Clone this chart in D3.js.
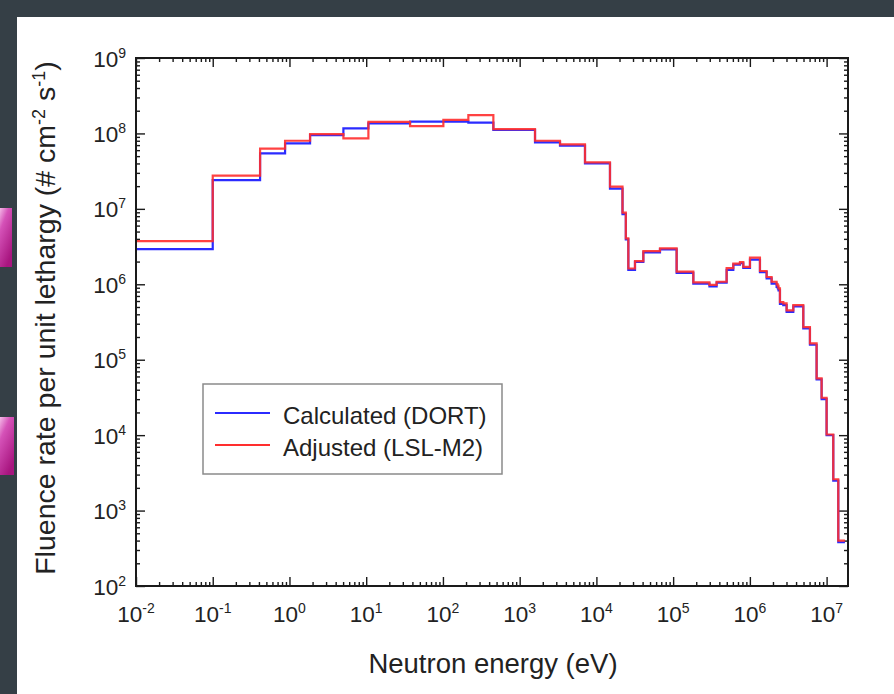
<!DOCTYPE html>
<html>
<head>
<meta charset="utf-8">
<script src="https://cdn.jsdelivr.net/npm/d3@7"></script>
<style>
  body { margin: 0; background: #353f46; }
  svg { display: block; }
  text { font-family: "Liberation Sans", Arial, Helvetica, sans-serif; fill: #222; }
</style>
</head>
<body>
<svg id="chart" width="894" height="694"></svg>
<script>
// Group boundaries (eV), ascending; the lowest bin is shown from the axis start.
const energyEdges = [
  1e-2, 0.1, 0.414, 0.8764, 1.855, 5.044, 10.68, 37.27, 101.3, 214.4,
  454.0, 1585, 3355, 7102, 15030, 21880, 24180, 26060, 31830, 40870,
  67380, 111100, 183200, 297200, 368800, 497900, 608100, 742700, 820800, 1003000,
  1353000, 1653000, 1920000, 2231000, 2307000, 2346000, 2365000, 2466000, 2725000, 3012000,
  3679000, 4966000, 6065000, 7408000, 8607000, 1.0e7, 1.221e7, 1.419e7, 1.733e7
];

// Fluence rate per unit lethargy for each group, ascending energy
const calculated = [
  2.93e6, 2.41e7, 5.45e7, 7.4e7, 9.5e7, 1.17e8, 1.36e8, 1.43e8, 1.43e8, 1.39e8,
  1.11e8, 7.6e7, 6.9e7, 4.0e7, 1.86e7, 8.5e6, 3.95e6, 1.55e6, 1.98e6, 2.65e6,
  2.9e6, 1.42e6, 1.02e6, 9.4e5, 1.05e6, 1.55e6, 1.82e6, 1.9e6, 1.65e6, 2.12e6,
  1.45e6, 1.2e6, 1.02e6, 9.2e5, 8.9e5, 8.6e5, 8.3e5, 5.5e5, 5.3e5, 4.3e5,
  5.1e5, 2.6e5, 1.58e5, 5.5e4, 3.0e4, 1.0e4, 2.5e3, 380
];
const adjusted = [
  3.74e6, 2.75e7, 6.27e7, 8.0e7, 9.8e7, 8.6e7, 1.42e8, 1.25e8, 1.51e8, 1.75e8,
  1.14e8, 8.0e7, 7.17e7, 4.13e7, 1.97e7, 8.9e6, 4.06e6, 1.62e6, 2.03e6, 2.75e6,
  2.99e6, 1.47e6, 1.06e6, 9.8e5, 1.08e6, 1.64e6, 1.88e6, 1.97e6, 1.7e6, 2.25e6,
  1.5e6, 1.25e6, 1.08e6, 1.0e6, 9.6e5, 9.3e5, 8.8e5, 5.8e5, 5.6e5, 4.5e5,
  5.3e5, 2.7e5, 1.65e5, 5.65e4, 3.13e4, 1.02e4, 2.6e3, 400
];

const seriesNames = ["Calculated (DORT)", "Adjusted (LSL-M2)"];
const seriesColors = ["#2b2bff", "#ff2e2e"];
const xTickExponents = [-2, -1, 0, 1, 2, 3, 4, 5, 6, 7];
const yTickExponents = [2, 3, 4, 5, 6, 7, 8, 9];
const xDomain = [1e-2, 1.9e7];
const yDomain = [1e2, 1e9];

const svg = d3.select("#chart");

// page frame: white sheet on dark backdrop, with two bullet tabs at the left edge
const defs = svg.append("defs");
const grad = defs.append("linearGradient").attr("id", "tab")
  .attr("x1", "0").attr("y1", "0").attr("x2", "0.6").attr("y2", "1");
grad.append("stop").attr("offset", "0").attr("stop-color", "#fbd0f2");
grad.append("stop").attr("offset", "0.35").attr("stop-color", "#d552b8");
grad.append("stop").attr("offset", "1").attr("stop-color", "#a8157f");

svg.append("rect").attr("x", 17).attr("y", 17).attr("width", 877).attr("height", 677).attr("fill", "#fff");
svg.append("rect").attr("x", -2).attr("y", 208).attr("width", 14).attr("height", 59).attr("fill", "url(#tab)");
svg.append("rect").attr("x", -2).attr("y", 417).attr("width", 16).attr("height", 58).attr("fill", "url(#tab)");

const plot = { left: 136, right: 848, top: 58, bottom: 586 };

const x = d3.scaleLog().domain(xDomain).range([plot.left, plot.right]);
const y = d3.scaleLog().domain(yDomain).range([plot.bottom, plot.top]);

// tick values
const xMajor = xTickExponents.map(e => Math.pow(10, e));
const xMinor = [];
xTickExponents.forEach(e => {
  for (let m = 2; m <= 9; m++) {
    const v = m * Math.pow(10, e);
    if (v < xDomain[1]) xMinor.push(v);
  }
});
const yMajor = yTickExponents.map(e => Math.pow(10, e));
const yMinor = [];
yTickExponents.slice(0, -1).forEach(e => {
  for (let m = 2; m <= 9; m++) yMinor.push(m * Math.pow(10, e));
});

const MAJ = 9, MIN = 4;
function styleAxis(g) {
  g.select(".domain").remove();
  g.selectAll(".tick line").attr("stroke", "#1a1a1a").attr("stroke-width", 1.4);
  g.selectAll(".tick text").remove();
}
function addAxis(gen, tx, ty) {
  svg.append("g").attr("transform", `translate(${tx},${ty})`).call(gen).call(styleAxis);
}
addAxis(d3.axisBottom(x).tickValues(xMajor).tickSize(-MAJ).tickFormat(""), 0, plot.bottom);
addAxis(d3.axisBottom(x).tickValues(xMinor).tickSize(-MIN).tickFormat(""), 0, plot.bottom);
addAxis(d3.axisTop(x).tickValues(xMajor).tickSize(-MAJ).tickFormat(""), 0, plot.top);
addAxis(d3.axisTop(x).tickValues(xMinor).tickSize(-MIN).tickFormat(""), 0, plot.top);
addAxis(d3.axisLeft(y).tickValues(yMajor).tickSize(-MAJ).tickFormat(""), plot.left, 0);
addAxis(d3.axisLeft(y).tickValues(yMinor).tickSize(-MIN).tickFormat(""), plot.left, 0);
addAxis(d3.axisRight(y).tickValues(yMajor).tickSize(-MAJ).tickFormat(""), plot.right, 0);
addAxis(d3.axisRight(y).tickValues(yMinor).tickSize(-MIN).tickFormat(""), plot.right, 0);

// step histograms
svg.append("clipPath").attr("id", "plotClip").append("rect")
  .attr("x", plot.left).attr("y", plot.top)
  .attr("width", plot.right - plot.left).attr("height", plot.bottom - plot.top);

const stepLine = d3.line()
  .x(d => x(d[0])).y(d => y(d[1]))
  .curve(d3.curveStepAfter);

function stepPoints(values) {
  const pts = values.map((v, i) => [energyEdges[i], v]);
  pts.push([energyEdges[energyEdges.length - 1], values[values.length - 1]]);
  return pts;
}

const lines = svg.append("g").attr("clip-path", "url(#plotClip)");
[calculated, adjusted].forEach((vals, i) => {
  lines.append("path")
    .attr("d", stepLine(stepPoints(vals)))
    .attr("fill", "none")
    .attr("stroke", seriesColors[i])
    .attr("stroke-width", 2.2)
    .attr("stroke-linejoin", "miter")
    .attr("opacity", i === 1 ? 0.9 : 1);
});

// frame
svg.append("rect")
  .attr("x", plot.left).attr("y", plot.top)
  .attr("width", plot.right - plot.left).attr("height", plot.bottom - plot.top)
  .attr("fill", "none").attr("stroke", "#1a1a1a").attr("stroke-width", 2);

// power-of-ten tick labels
function powerLabel(g, exp) {
  g.append("tspan").text("10");
  g.append("tspan").attr("dy", -9).attr("font-size", 14).text(String(exp));
}
xTickExponents.forEach(e => {
  const t = svg.append("text")
    .attr("x", x(Math.pow(10, e)))
    .attr("y", 622)
    .attr("text-anchor", "middle")
    .attr("font-size", 22.5)
    .attr("fill", "#333");
  powerLabel(t, e);
});
yTickExponents.forEach(e => {
  const t = svg.append("text")
    .attr("x", 126)
    .attr("y", y(Math.pow(10, e)) + 8.5)
    .attr("text-anchor", "end")
    .attr("font-size", 22.5)
    .attr("fill", "#333");
  powerLabel(t, e);
});

// axis titles
svg.append("text")
  .attr("x", 493)
  .attr("y", 673)
  .attr("text-anchor", "middle")
  .attr("font-size", 27.5)
  .text("Neutron energy (eV)");

const yt = svg.append("text")
  .attr("transform", `translate(55,318) rotate(-90)`)
  .attr("text-anchor", "middle")
  .attr("font-size", 28.5);
yt.append("tspan").text("Fluence rate per unit lethargy (# cm");
yt.append("tspan").attr("dy", -10).attr("font-size", 18).text("-2");
yt.append("tspan").attr("dy", 10).text(" s");
yt.append("tspan").attr("dy", -10).attr("font-size", 18).text("-1");
yt.append("tspan").attr("dy", 10).text(")");

// legend
const legend = svg.append("g");
legend.append("rect")
  .attr("x", 203).attr("y", 384).attr("width", 299).attr("height", 90)
  .attr("fill", "#fff").attr("stroke", "#8a8a8a").attr("stroke-width", 1.5);
seriesNames.forEach((name, i) => {
  const ly = 413 + i * 32;
  legend.append("line")
    .attr("x1", 215).attr("x2", 270).attr("y1", ly).attr("y2", ly)
    .attr("stroke", seriesColors[i]).attr("stroke-width", 2.2);
  legend.append("text")
    .attr("x", 283).attr("y", ly + 11)
    .attr("font-size", 24)
    .attr("fill", "#333")
    .text(name);
});
</script>
</body>
</html>
